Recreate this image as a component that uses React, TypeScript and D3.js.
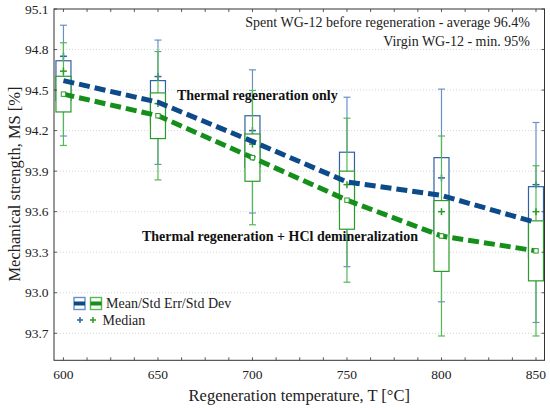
import React from "react";
import * as d3 from "d3";

const temperatures = [600, 650, 700, 750, 800, 850];
const blueMean = [94.57, 94.41, 94.12, 93.82, 93.72, 93.52];
const blueSE = [0.147, 0.16, 0.19, 0.22, 0.28, 0.265];
const blueSD = [0.41, 0.46, 0.53, 0.627, 0.787, 0.74];
const blueMedian = [94.75, 94.6, 94.2, 93.8, 93.85, 93.8];
const greenMean = [94.47, 94.31, 94.0, 93.685, 93.42, 93.31];
const greenSE = [0.132, 0.169, 0.175, 0.215, 0.262, 0.222];
const greenSD = [0.38, 0.475, 0.497, 0.607, 0.74, 0.63];
const greenMedian = [94.64, 94.4, 94.1, 93.8, 93.6, 93.6];

const yTickValues = [95.1, 94.8, 94.5, 94.2, 93.9, 93.6, 93.3, 93.0, 92.7];
const yTickLabels = ["95.1", "94.8", "94.5", "94.2", "93.9", "93.6", "93.3", "93.0", "93.7"];
const xTickValues = [600, 650, 700, 750, 800, 850];
const xMinorTicks = d3.range(600, 851, 12.5);

const W = 550;
const H = 410;
const L = 54, R = 544.5, T = 9, B = 360.3;
const FONT = "Liberation Serif, DejaVu Serif, Times New Roman, serif";

const x = d3.scaleLinear().domain([595, 854.5]).range([L, R]);
const y = d3.scaleLinear().domain([92.5, 95.1]).range([B, T]);

type Series = {
  mean: number[]; se: number[]; sd: number[]; median: number[];
  box: string; whisker: string; line: string;
};

const blue: Series = { mean: blueMean, se: blueSE, sd: blueSD, median: blueMedian, box: "#2f62a3", whisker: "#6892c6", line: "#0c4a8a" };
const green: Series = { mean: greenMean, se: greenSE, sd: greenSD, median: greenMedian, box: "#2b9b2b", whisker: "#55b855", line: "#14901a" };

const BOXW = 15;
const CAPW = 7;

function Boxes({ s }: { s: Series }) {
  return (
    <g>
      {temperatures.map((t, i) => {
        const cx = x(t);
        const top = y(s.mean[i] + s.sd[i]);
        const bot = y(s.mean[i] - s.sd[i]);
        const bt = y(s.mean[i] + s.se[i]);
        const bb = y(s.mean[i] - s.se[i]);
        const my = y(s.median[i]);
        return (
          <g key={t}>
            <line x1={cx} x2={cx} y1={top} y2={bot} stroke={s.whisker} strokeWidth={1.2} />
            <line x1={cx - CAPW / 2} x2={cx + CAPW / 2} y1={top} y2={top} stroke={s.whisker} strokeWidth={1.2} />
            <line x1={cx - CAPW / 2} x2={cx + CAPW / 2} y1={bot} y2={bot} stroke={s.whisker} strokeWidth={1.2} />
            <rect x={cx - BOXW / 2} y={bt} width={BOXW} height={bb - bt} fill="#fff" stroke={s.box} strokeWidth={1.2} />
            <line x1={cx - 3.5} x2={cx + 3.5} y1={my} y2={my} stroke={s.box} strokeWidth={1.5} />
            <line x1={cx} x2={cx} y1={my - 3.5} y2={my + 3.5} stroke={s.box} strokeWidth={1.5} />
          </g>
        );
      })}
    </g>
  );
}

export default function App() {
  const lineGen = (m: number[]) =>
    d3.line<number>().x((_, i) => x(temperatures[i])).y((v) => y(v))(m) || "";
  const ts: React.CSSProperties = { fontFamily: FONT };

  return (
    <svg width={W} height={H} style={{ position: "absolute", left: 0, top: 0, background: "#fff" }}>
      <rect x={0} y={0} width={W} height={H} fill="#fff" />
      {yTickValues.slice(1).map((v) => (
        <line key={v} x1={L} x2={R} y1={y(v)} y2={y(v)} stroke="#c8c8c8" strokeWidth={0.8} strokeDasharray="1,2" />
      ))}
      <Boxes s={blue} />
      <Boxes s={green} />
      <path d={lineGen(blueMean)} fill="none" stroke={blue.line} strokeWidth={5} strokeDasharray="11,5" />
      <path d={lineGen(greenMean)} fill="none" stroke={green.line} strokeWidth={5} strokeDasharray="11,5" />
      {greenMean.map((v, i) => (
        <rect key={i} x={x(temperatures[i]) - 2.2} y={y(v) - 2.2} width={4.4} height={4.4} fill="#fff" stroke={green.box} strokeWidth={1} />
      ))}
      <rect x={L} y={T} width={R - L} height={B - T} fill="none" stroke="#333" strokeWidth={1} />
      {xMinorTicks.map((v) => (
        <g key={v}>
          <line x1={x(v)} x2={x(v)} y1={B} y2={B - 3} stroke="#333" strokeWidth={0.8} />
          <line x1={x(v)} x2={x(v)} y1={T} y2={T + 3} stroke="#333" strokeWidth={0.8} />
        </g>
      ))}
      {yTickValues.map((v) => (
        <g key={v}>
          <line x1={L} x2={L + 3} y1={y(v)} y2={y(v)} stroke="#333" strokeWidth={0.8} />
          <line x1={R} x2={R - 3} y1={y(v)} y2={y(v)} stroke="#333" strokeWidth={0.8} />
        </g>
      ))}
      <g style={ts}>
        {xTickValues.map((v) => (
          <text key={v} x={x(v)} y={379} textAnchor="middle" fontSize={13.5} fill="#222" style={ts}>{v}</text>
        ))}
        {yTickValues.map((v, i) => (
          <text key={v} x={48.5} y={y(v) + 4.5} textAnchor="end" fontSize={13.5} fill="#222" style={ts}>{yTickLabels[i]}</text>
        ))}
        <text x={(L + R) / 2} y={401} textAnchor="middle" fontSize={16.5} fill="#222" style={ts}>Regeneration temperature, T [°C]</text>
        <text transform={`translate(20,184) rotate(-90)`} textAnchor="middle" fontSize={16.5} fill="#222" style={ts}>Mechanical strength, MS [%]</text>
        <text x={530} y={27} textAnchor="end" fontSize={14} fill="#222" style={ts}>Spent WG-12 before regeneration - average 96.4%</text>
        <text x={530} y={46} textAnchor="end" fontSize={14} fill="#222" style={ts}>Virgin WG-12 - min. 95%</text>
        <text x={177} y={100} fontSize={14} fontWeight="bold" fill="#111" style={ts}>Thermal regeneration only</text>
        <text x={142} y={241} fontSize={14} fontWeight="bold" fill="#111" style={ts}>Thermal regeneration + HCl demineralization</text>
      </g>
      <g>
        <rect x={74} y={297.5} width={11} height={12} fill="#fff" stroke={blue.whisker} strokeWidth={1.4} />
        <rect x={74} y={301.5} width={11} height={4} fill={blue.line} />
        <rect x={90.5} y={297.5} width={11} height={12} fill="#fff" stroke={green.whisker} strokeWidth={1.4} />
        <rect x={90.5} y={301.5} width={11} height={4} fill={green.line} />
        <text x={106} y={308} fontSize={14} fill="#222" style={ts}>Mean/Std Err/Std Dev</text>
        <line x1={77} x2={83} y1={320} y2={320} stroke={blue.box} strokeWidth={1.5} />
        <line x1={80} x2={80} y1={317} y2={323} stroke={blue.box} strokeWidth={1.5} />
        <line x1={90} x2={96} y1={320} y2={320} stroke={green.box} strokeWidth={1.5} />
        <line x1={93} x2={93} y1={317} y2={323} stroke={green.box} strokeWidth={1.5} />
        <text x={102.5} y={324.5} fontSize={14} fill="#222" style={ts}>Median</text>
      </g>
    </svg>
  );
}
